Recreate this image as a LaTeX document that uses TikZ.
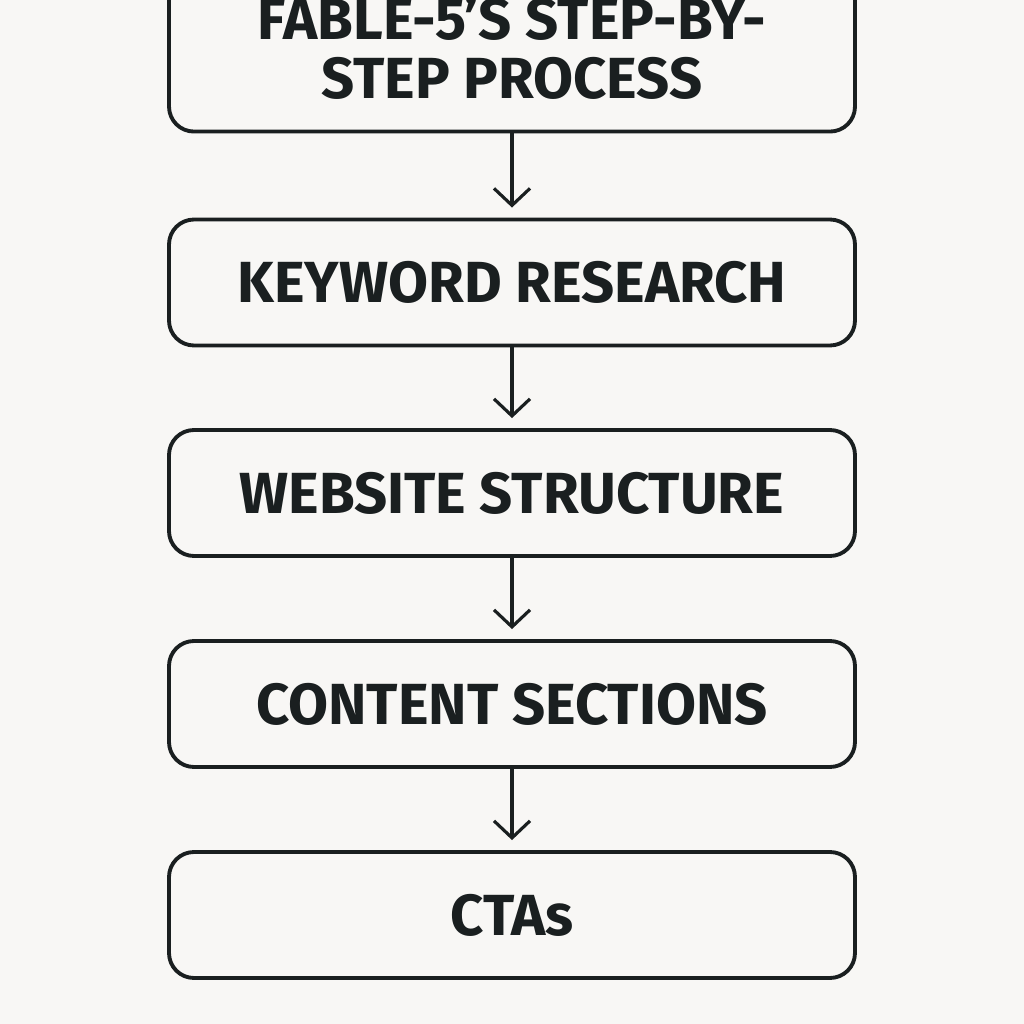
\documentclass[tikz,border=0pt]{standalone}
\usepackage{fontspec}
\setmainfont{Fira Sans}
\usepackage{tikz}
\usetikzlibrary{positioning,arrows.meta}
\definecolor{bgpaper}{HTML}{F8F7F5}
\definecolor{inkdark}{HTML}{1A1F20}

\begin{document}
\begin{tikzpicture}[
    stepbox/.style={draw=inkdark, line width=1.1pt, rounded corners=0.25cm, fill=bgpaper,
      minimum width=6.86cm, minimum height=1.26cm, align=center, text=inkdark,
      font=\fontsize{16.5}{20}\selectfont\bfseries},
    flow/.style={draw=inkdark, line width=0.9pt, shorten >=0.1cm,
      -{Straight Barb[length=0.17cm, width=0.36cm, line width=0.9pt]}}
  ]
      \fill[bgpaper] (0,0) rectangle (10.24,10.24);
      \useasboundingbox (0,0) rectangle (10.24,10.24);
      % title box runs off the top edge
      \node[stepbox, minimum height=1.68cm, anchor=south] (title) at (5.12,8.905)
        {FABLE-5'S STEP-BY-\\[-0.11cm]STEP PROCESS};
      \node[stepbox] (keyword) at (5.12,7.415) {KEYWORD RESEARCH};
      \node[stepbox] (structure) at (5.12,5.31) {WEBSITE STRUCTURE};
      \node[stepbox] (content) at (5.12,3.20) {CONTENT SECTIONS};
      \node[stepbox] (ctas) at (5.12,1.09) {CTAs};
      \draw[flow] (title) -- (keyword);
      \draw[flow] (keyword) -- (structure);
      \draw[flow] (structure) -- (content);
      \draw[flow] (content) -- (ctas);
\end{tikzpicture}
\end{document}
